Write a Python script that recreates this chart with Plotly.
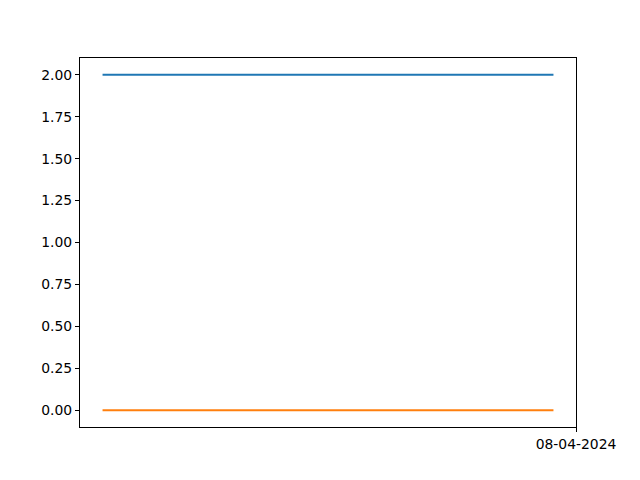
import plotly.graph_objects as go

# Data
times = ["2024-08-03 03:00", "2024-08-03 23:00"]
series_a = [2, 2]
series_b = [0, 0]
x_tick_vals = ["2024-08-04 00:00"]
x_tick_text = ["08-04-2024"]
y_tick_vals = [0, 0.25, 0.5, 0.75, 1.0, 1.25, 1.5, 1.75, 2.0]

fig = go.Figure()
fig.add_trace(go.Scatter(x=times, y=series_a, mode="lines",
                         line=dict(color="#1f77b4", width=2), showlegend=False))
fig.add_trace(go.Scatter(x=times, y=series_b, mode="lines",
                         line=dict(color="#ff7f0e", width=2), showlegend=False))

axis_common = dict(showgrid=False, zeroline=False, showline=True, linecolor="black",
                   linewidth=1, mirror=True, ticks="outside", ticklen=4,
                   tickcolor="black", tickwidth=1,
                   tickfont=dict(family="DejaVu Sans", size=13.9, color="black"))

fig.update_layout(
    width=640, height=480,
    margin=dict(l=80, r=64, t=58, b=53),
    paper_bgcolor="white", plot_bgcolor="white",
    xaxis=dict(type="date", range=["2024-08-03 02:00", "2024-08-04 00:00"],
               tickmode="array", tickvals=x_tick_vals, ticktext=x_tick_text,
               **axis_common),
    yaxis=dict(range=[-0.1, 2.1], tickmode="array", tickvals=y_tick_vals,
               tickformat=".2f", **axis_common),
)

fig.write_html("out.html")
